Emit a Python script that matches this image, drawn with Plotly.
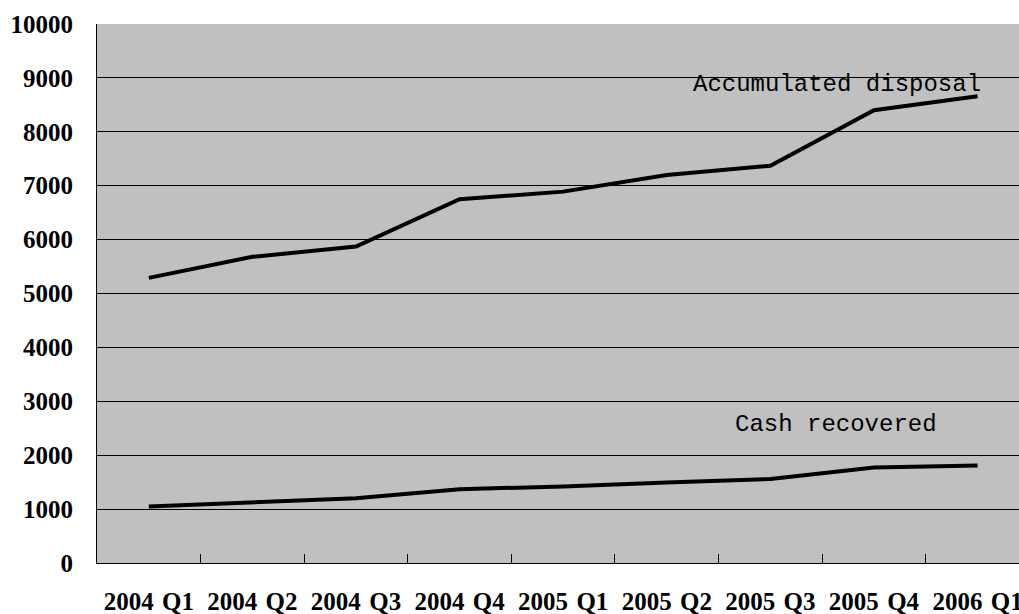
import plotly.graph_objects as go

quarters = ["2004 Q1", "2004 Q2", "2004 Q3", "2004 Q4", "2005 Q1",
            "2005 Q2", "2005 Q3", "2005 Q4", "2006 Q1"]
accumulated_disposal = [5290, 5680, 5870, 6750, 6890, 7200, 7370, 8400, 8660]
cash_recovered = [1050, 1130, 1200, 1370, 1420, 1495, 1560, 1770, 1810]
y_ticks = [0, 1000, 2000, 3000, 4000, 5000, 6000, 7000, 8000, 9000, 10000]
y_tick_labels = [str(v) for v in y_ticks]
x_tick_labels = [q.replace(" ", "\u2004") for q in quarters]

fig = go.Figure()
fig.add_trace(go.Scatter(x=quarters, y=accumulated_disposal, mode="lines",
                         line=dict(color="#000000", width=4), showlegend=False))
fig.add_trace(go.Scatter(x=quarters, y=cash_recovered, mode="lines",
                         line=dict(color="#000000", width=4), showlegend=False))

label_font = dict(family="Liberation Mono", size=24, color="#000000")
fig.add_annotation(x=6.64, y=8870, xref="x", yref="y", text="Accumulated disposal",
                   showarrow=False, font=label_font)
fig.add_annotation(x=6.63, y=2570, xref="x", yref="y", text="Cash recovered",
                   showarrow=False, font=label_font)

tick_font = dict(family="Liberation Serif", size=25, color="#000000", weight="bold")

fig.update_layout(
    width=1019, height=614,
    margin=dict(l=97, r=0, t=24, b=51, autoexpand=False),
    paper_bgcolor="#FFFFFF",
    plot_bgcolor="#C0C0C0",
    xaxis=dict(type="category", categoryorder="array", categoryarray=quarters,
               range=[-0.5, 8.4], tickson="boundaries", ticks="inside",
               ticklen=9, tickcolor="#000000", tickwidth=1,
               tickmode="array", tickvals=quarters, ticktext=x_tick_labels,
               tickangle=0,
               showline=True, linecolor="#000000", linewidth=1,
               showgrid=False, zeroline=False, tickfont=tick_font,
               ticklabelstandoff=16, automargin=False),
    yaxis=dict(range=[0, 10000], tickmode="array", tickvals=y_ticks,
               ticktext=y_tick_labels, ticks="inside", ticklen=6,
               tickcolor="#000000", showline=True, linecolor="#000000", linewidth=1,
               showgrid=True, gridcolor="#000000", gridwidth=1, zeroline=False,
               tickfont=tick_font, ticklabelstandoff=18, automargin=False),
)

fig.write_html("out.html")
